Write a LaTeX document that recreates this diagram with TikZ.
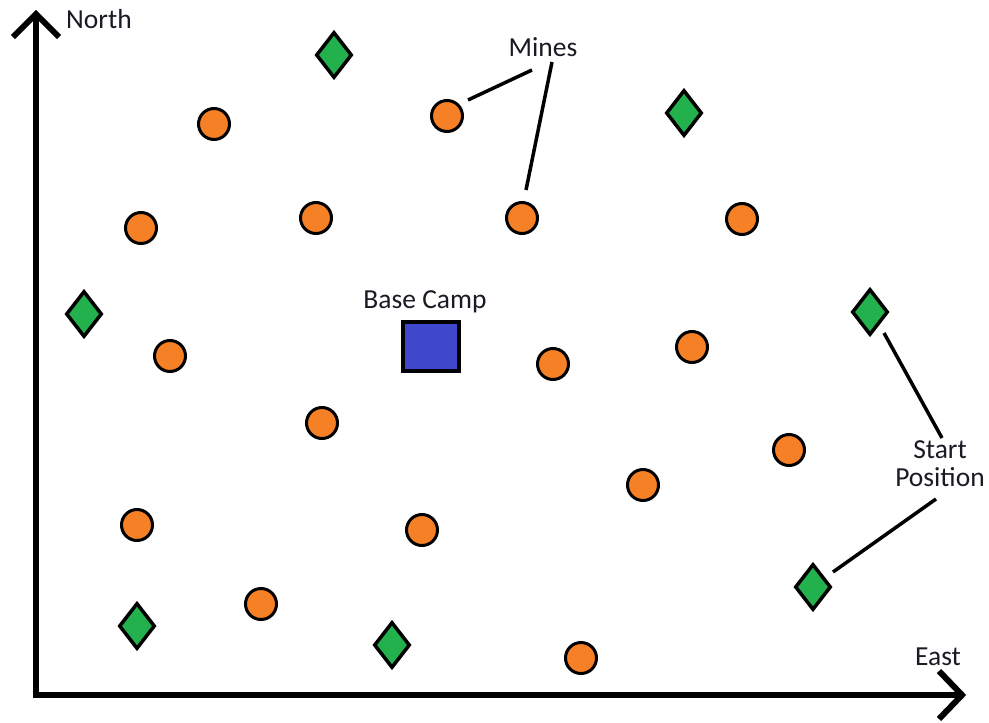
\documentclass[tikz,border=0pt]{standalone}
\usepackage{fontspec}
\setmainfont{Carlito}
\usetikzlibrary{shapes.geometric}
\definecolor{mineorange}{HTML}{F58025}
\definecolor{startgreen}{HTML}{22B14C}
\definecolor{campblue}{HTML}{3F48CC}
\definecolor{labeltext}{HTML}{1A1A24}
\tikzset{
  mine/.style={circle,draw=black,line width=3pt,fill=mineorange,minimum size=31pt,inner sep=0pt},
  startpos/.style={diamond,draw=black,line width=3.5pt,fill=startgreen,minimum width=36pt,minimum height=46pt,inner sep=0pt},
  camp/.style={rectangle,draw=black,line width=4pt,fill=campblue,minimum width=56pt,minimum height=49pt,inner sep=0pt},
  lbl/.style={font=\fontsize{27.5}{28}\selectfont,text=labeltext,inner sep=0pt,align=center},
  lead/.style={draw=black,line width=3.5pt},
  axis/.style={draw=black,line width=6pt},
  chev/.style={draw=black,line width=6pt,line cap=butt,line join=miter}
}
\begin{document}
\begin{tikzpicture}[x=1pt,y=-1pt]
\useasboundingbox (0,0) rectangle (989,723);
% axes
\coordinate (origin) at (36,695);
\coordinate (ntip) at (36,14);
\coordinate (etip) at (962,695);
\draw[axis] (origin) -- (ntip);
\draw[axis] ([xshift=-3pt]origin) -- (etip);
\draw[chev] (13,37) -- (ntip) -- (59,37);
\draw[chev] (939,671) -- (etip) -- (939,719);
\node[lbl,anchor=west] (north) at (66,19) {North};
\node[lbl] (east) at (938,657) {East};
% mines
\node[mine] (m1) at (214,124) {};
\node[mine] (m2) at (447,116) {};
\node[mine] (m3) at (141,228) {};
\node[mine] (m4) at (316,218) {};
\node[mine] (m5) at (522,218) {};
\node[mine] (m6) at (742,219) {};
\node[mine] (m7) at (170,356) {};
\node[mine] (m8) at (553,364) {};
\node[mine] (m9) at (692,347) {};
\node[mine] (m10) at (322,423) {};
\node[mine] (m11) at (789,450) {};
\node[mine] (m12) at (643,485) {};
\node[mine] (m13) at (137,525) {};
\node[mine] (m14) at (422,530) {};
\node[mine] (m15) at (261,604) {};
\node[mine] (m16) at (581,658) {};
% start positions
\node[startpos] (s1) at (334,55) {};
\node[startpos] (s2) at (684,113) {};
\node[startpos] (s3) at (84,314) {};
\node[startpos] (s4) at (870,312) {};
\node[startpos] (s5) at (813,587) {};
\node[startpos] (s6) at (137,626) {};
\node[startpos] (s7) at (392,645) {};
% base camp
\node[camp] (base) at (430.5,346) {};
\node[lbl] (baselbl) at (425,302) {Base Camp};
% labels
\node[lbl] (mines) at (543,47) {Mines};
\node[lbl] (startlbl) at (940,464) {Start\\Position};
% leaders
\coordinate (ma) at (532,70);
\coordinate (mb) at (552,62);
\coordinate (m2e) at (468,100);
\coordinate (m5e) at (526,190);
\draw[lead] (m2e) -- (ma);
\draw[lead] (mb) -- (m5e);
\coordinate (sa) at (942,438);
\coordinate (sb) at (936,499);
\coordinate (s4e) at (884,333);
\coordinate (s5e) at (833,572);
\draw[lead] (s4e) -- (sa);
\draw[lead] (sb) -- (s5e);
\end{tikzpicture}
\end{document}
